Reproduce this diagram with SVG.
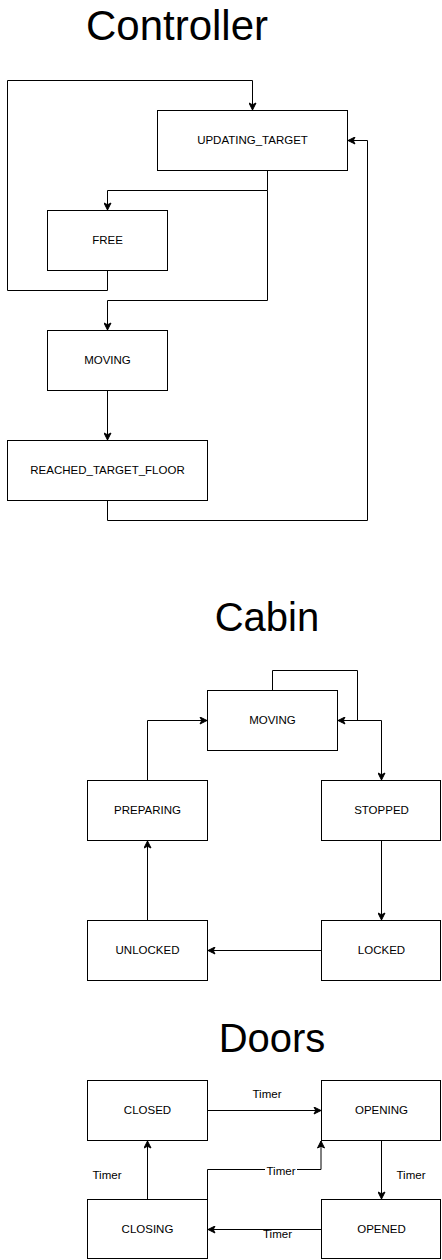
<svg xmlns="http://www.w3.org/2000/svg" width="442" height="1260" viewBox="0 0 442 1260">
<style>
  .node rect { fill: #ffffff; stroke: #000000; stroke-width: 1; }
  .node text { font-family: "Liberation Sans", Arial, Helvetica, sans-serif; font-size: 11.5px; fill: #000; text-anchor: middle; }
  .title { font-family: "Liberation Sans", Arial, Helvetica, sans-serif; font-size: 42px; fill: #000; text-anchor: middle; }
  .title2 { font-family: "Liberation Sans", Arial, Helvetica, sans-serif; font-size: 40px; fill: #000; text-anchor: middle; }
  .edge { fill: none; stroke: #000; stroke-width: 1; marker-end: url(#arrow); }
  .lbl { font-family: "Liberation Sans", Arial, Helvetica, sans-serif; font-size: 11.5px; fill: #000; text-anchor: middle; }
  .lblbg { fill: #ffffff; }
</style>
<defs>
  <marker id="arrow" markerUnits="userSpaceOnUse" viewBox="-8 -4 9 8" refX="0" refY="0" markerWidth="9" markerHeight="8" orient="auto">
    <path d="M-7,-3.5 L0,0 L-7,3.5 L-5.25,0 Z" fill="#000" stroke="#000" stroke-width="1"/>
  </marker>
</defs>
<rect x="0" y="0" width="442" height="1260" fill="#ffffff"/>

<text class="title" x="177" y="40">Controller</text>
<text class="title2" x="267" y="631">Cabin</text>
<text class="title2" x="272" y="1052">Doors</text>

<g id="connectors">
  <!-- Controller -->
  <path class="edge" d="M107.5,270.5 V290.5 H7.5 V80.5 H252.5 V110"/>
  <path class="edge" d="M267.5,170.5 V190.5 H107.5 V210"/>
  <path class="edge" d="M267.5,190.5 V300.5 H107.5 V330"/>
  <path class="edge" d="M107.5,390.5 V440"/>
  <path class="edge" d="M107.5,500.5 V520.5 H367.5 V140.5 H348"/>
  <!-- Cabin -->
  <path class="edge" d="M272.5,690.5 V670.5 H357.5 V720.5 H338"/>
  <path class="edge" d="M337.5,720.5 H381.5 V780"/>
  <path class="edge" d="M381.5,840.5 V920"/>
  <path class="edge" d="M321.5,950.5 H208"/>
  <path class="edge" d="M147.5,920.5 V841"/>
  <path class="edge" d="M147.5,780.5 V720.5 H207"/>
  <!-- Doors -->
  <path class="edge" d="M207.5,1110.5 H321"/>
  <path class="edge" d="M381.5,1140.5 V1199"/>
  <path class="edge" d="M321.5,1229.5 H208"/>
  <path class="edge" d="M147.5,1199.5 V1141"/>
  <path class="edge" d="M207.5,1199.5 V1169.5 H321 V1141" stroke="#333"/>
  <text class="lbl" x="267" y="1098">Timer</text>
  <text class="lbl" x="411" y="1179">Timer</text>
  <text class="lbl" x="107" y="1179">Timer</text>
  <rect class="lblbg" x="265" y="1164" width="32" height="13"/>
  <text class="lbl" x="281" y="1175">Timer</text>
  <rect class="lblbg" x="262" y="1230" width="31" height="12"/>
  <text class="lbl" x="277.5" y="1238">Timer</text>
</g>

<g id="updating_target" class="node"><rect x="157.5" y="110.5" width="190" height="60"/><text x="252.5" y="143.5">UPDATING_TARGET</text></g>
<g id="free" class="node"><rect x="47.5" y="210.5" width="120" height="60"/><text x="107.5" y="243.5">FREE</text></g>
<g id="ctrl_moving" class="node"><rect x="47.5" y="330.5" width="120" height="60"/><text x="107.5" y="363.5">MOVING</text></g>
<g id="reached_target_floor" class="node"><rect x="7.5" y="440.5" width="200" height="60"/><text x="107.5" y="473.5">REACHED_TARGET_FLOOR</text></g>

<g id="cabin_moving" class="node"><rect x="207.5" y="690.5" width="130" height="60"/><text x="272.5" y="723.5">MOVING</text></g>
<g id="preparing" class="node"><rect x="87.5" y="780.5" width="120" height="60"/><text x="147.5" y="813.5">PREPARING</text></g>
<g id="stopped" class="node"><rect x="321.5" y="780.5" width="119" height="60"/><text x="381.5" y="813.5">STOPPED</text></g>
<g id="unlocked" class="node"><rect x="87.5" y="920.5" width="120" height="60"/><text x="147.5" y="953.5">UNLOCKED</text></g>
<g id="locked" class="node"><rect x="321.5" y="920.5" width="119" height="60"/><text x="381.5" y="953.5">LOCKED</text></g>

<g id="closed" class="node"><rect x="87.5" y="1080.5" width="120" height="60"/><text x="147.5" y="1113.5">CLOSED</text></g>
<g id="opening" class="node"><rect x="321.5" y="1080.5" width="119" height="60"/><text x="381.5" y="1113.5">OPENING</text></g>
<g id="closing" class="node"><rect x="87.5" y="1199.5" width="120" height="59"/><text x="147.5" y="1232.5">CLOSING</text></g>
<g id="opened" class="node"><rect x="321.5" y="1199.5" width="119" height="59"/><text x="381.5" y="1232.5">OPENED</text></g>
</svg>
